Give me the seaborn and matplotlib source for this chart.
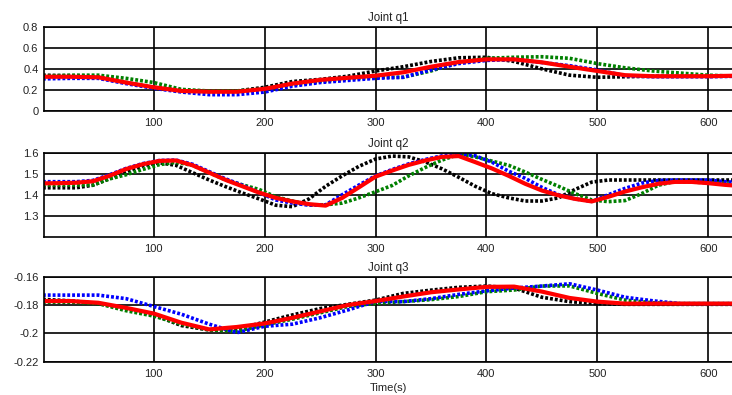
import matplotlib
matplotlib.use("Agg")
import matplotlib.pyplot as plt
import seaborn as sns
import pandas as pd

sns.set_theme(style="white")
plt.rcParams['font.family'] = ['Liberation Sans', 'DejaVu Sans']

t1 = [0, 25, 50, 75, 100, 125, 150, 175, 200, 225, 250, 275, 300, 325, 350, 375,
      400, 425, 450, 475, 500, 525, 550, 575, 600, 625]
t3 = t1

q1_black = [0.34, 0.335, 0.325, 0.27, 0.225, 0.195, 0.185, 0.19, 0.225, 0.28, 0.30, 0.33, 0.38,
            0.42, 0.47, 0.505, 0.51, 0.47, 0.40, 0.34, 0.32, 0.325, 0.33, 0.33, 0.33, 0.33]
q1_green = [0.33, 0.34, 0.34, 0.31, 0.27, 0.205, 0.19, 0.19, 0.21, 0.25, 0.28, 0.305, 0.32,
            0.32, 0.38, 0.46, 0.50, 0.51, 0.515, 0.50, 0.45, 0.41, 0.38, 0.36, 0.34, 0.33]
q1_blue = [0.305, 0.31, 0.31, 0.26, 0.215, 0.18, 0.155, 0.155, 0.18, 0.235, 0.27, 0.29, 0.31,
           0.32, 0.39, 0.45, 0.48, 0.49, 0.46, 0.43, 0.39, 0.335, 0.325, 0.325, 0.325, 0.33]
q1_red = [0.325, 0.325, 0.32, 0.27, 0.225, 0.19, 0.183, 0.183, 0.21, 0.26, 0.295, 0.315, 0.335,
          0.367, 0.42, 0.465, 0.49, 0.49, 0.462, 0.42, 0.38, 0.34, 0.33, 0.33, 0.33, 0.335]

t2 = [0, 15, 30, 45, 60, 75, 90, 105, 120, 135, 150, 165, 180, 195, 210, 225, 240, 255, 270,
      285, 300, 315, 330, 345, 360, 375, 390, 405, 420, 435, 450, 465, 480, 495, 510, 525,
      540, 555, 570, 585, 600, 615, 625]
q2_black = [1.433, 1.433, 1.433, 1.445, 1.476, 1.51, 1.537, 1.552, 1.54, 1.505, 1.47, 1.438,
            1.408, 1.38, 1.35, 1.343, 1.38, 1.44, 1.49, 1.535, 1.57, 1.584, 1.58, 1.556, 1.523,
            1.483, 1.44, 1.405, 1.385, 1.37, 1.37, 1.385, 1.425, 1.46, 1.47, 1.47, 1.47, 1.47,
            1.47, 1.47, 1.47, 1.47, 1.47]
q2_green = [1.446, 1.446, 1.446, 1.446, 1.475, 1.495, 1.52, 1.543, 1.554, 1.54, 1.505, 1.47,
            1.447, 1.425, 1.39, 1.37, 1.352, 1.352, 1.36, 1.385, 1.414, 1.444, 1.49, 1.53, 1.565,
            1.592, 1.58, 1.56, 1.54, 1.508, 1.473, 1.44, 1.405, 1.375, 1.367, 1.372, 1.405,
            1.445, 1.463, 1.46, 1.457, 1.452, 1.449]
q2_blue = [1.462, 1.462, 1.462, 1.468, 1.495, 1.525, 1.548, 1.563, 1.565, 1.545, 1.51, 1.475,
           1.445, 1.41, 1.375, 1.36, 1.35, 1.352, 1.40, 1.446, 1.49, 1.52, 1.547, 1.568, 1.585,
           1.596, 1.585, 1.555, 1.512, 1.478, 1.435, 1.40, 1.38, 1.368, 1.40, 1.43, 1.455,
           1.468, 1.47, 1.47, 1.47, 1.462, 1.459]
q2_red = [1.454, 1.455, 1.457, 1.464, 1.49, 1.522, 1.545, 1.561, 1.563, 1.54, 1.505, 1.47,
          1.44, 1.41, 1.385, 1.368, 1.355, 1.348, 1.385, 1.435, 1.486, 1.515, 1.542, 1.563, 1.58,
          1.584, 1.555, 1.525, 1.49, 1.452, 1.42, 1.397, 1.38, 1.368, 1.39, 1.415, 1.435, 1.452,
          1.461, 1.461, 1.455, 1.447, 1.443]

q3_black = [-0.176, -0.177, -0.179, -0.1825, -0.187, -0.1945, -0.1976, -0.197, -0.192, -0.187,
            -0.1825, -0.1795, -0.1765, -0.1718, -0.1695, -0.1675, -0.1666, -0.168, -0.1745,
            -0.1776, -0.179, -0.1795, -0.1795, -0.1795, -0.1795, -0.1795]
q3_green = [-0.178, -0.178, -0.179, -0.184, -0.1878, -0.1935, -0.1976, -0.1985, -0.194, -0.19,
            -0.1855, -0.181, -0.1788, -0.1776, -0.1762, -0.174, -0.1706, -0.1694, -0.1666,
            -0.1665, -0.1718, -0.1765, -0.1784, -0.179, -0.179, -0.179]
q3_blue = [-0.173, -0.173, -0.173, -0.1755, -0.181, -0.1865, -0.1935, -0.1995, -0.195, -0.1935,
           -0.189, -0.1835, -0.1774, -0.1776, -0.1755, -0.1725, -0.170, -0.168, -0.1666,
           -0.165, -0.1694, -0.1745, -0.177, -0.179, -0.179, -0.179]
q3_red = [-0.1772, -0.1772, -0.1784, -0.182, -0.186, -0.1925, -0.1972, -0.1955, -0.193, -0.189,
          -0.1845, -0.180, -0.1772, -0.174, -0.171, -0.169, -0.1672, -0.167, -0.1705,
          -0.175, -0.1776, -0.179, -0.179, -0.179, -0.179, -0.179]

titles = ["Joint q1", "Joint q2", "Joint q3"]
times = [t1, t2, t3]
panels = [
    (q1_black, q1_green, q1_blue, q1_red),
    (q2_black, q2_green, q2_blue, q2_red),
    (q3_black, q3_green, q3_blue, q3_red),
]
ylims = [(0, 0.8), (1.2, 1.6), (-0.22, -0.16)]
yticks = [[0, 0.2, 0.4, 0.6, 0.8], [1.3, 1.4, 1.5, 1.6], [-0.22, -0.2, -0.18, -0.16]]
yticklabels = [["0", "0.2", "0.4", "0.6", "0.8"], ["1.3", "1.4", "1.5", "1.6"],
               ["-0.22", "-0.2", "-0.18", "-0.16"]]
xticks = [100, 200, 300, 400, 500, 600]

W, H = 732, 395
fig = plt.figure(figsize=(W / 100, H / 100), dpi=100)
boxes = [(26.7, 111.0), (152.7, 236.7), (276.7, 361.7)]
left, right = 44.0, 732.0

styles = [("black", "dot"), ("#008000", "dot"), ("#0000ff", "dot"), ("#ff0000", "solid")]

for i, (top, bot) in enumerate(boxes):
    ax = fig.add_axes([left / W, 1 - bot / H, (right - left) / W, (bot - top) / H])
    for series, (col, st) in zip(panels[i], styles):
        df = pd.DataFrame({"t": times[i], "v": series})
        if st == "dot":
            sns.lineplot(data=df, x="t", y="v", ax=ax, color=col, linewidth=2.6,
                         linestyle=(0, (0.8, 0.55)), estimator=None, sort=False)
        else:
            sns.lineplot(data=df, x="t", y="v", ax=ax, color=col, linewidth=3.0,
                         estimator=None, sort=False)
    ax.set_xlim(1, 621.5)
    ax.set_ylim(*ylims[i])
    ax.set_xticks(xticks)
    ax.set_xticklabels([str(x) for x in xticks], fontsize=8, color="#222222")
    ax.set_yticks(yticks[i])
    ax.set_yticklabels(yticklabels[i], fontsize=8, color="#222222")
    ax.tick_params(axis="y", length=0, pad=4)
    ax.tick_params(axis="x", length=0, pad=5)
    ax.grid(True, color="black", linewidth=1.2, linestyle="-")
    ax.set_axisbelow(True)
    for s in ["left", "top", "bottom"]:
        ax.spines[s].set_color("black")
        ax.spines[s].set_linewidth(1.2)
    ax.spines["right"].set_visible(False)
    ax.set_title(titles[i], fontsize=8.3, pad=4, color="#222222")
    ax.set_ylabel("")
    if i == 2:
        ax.set_xlabel("Time(s)", fontsize=8, labelpad=3, color="#222222")
    else:
        ax.set_xlabel("")

fig.savefig("out.png", dpi=100)
